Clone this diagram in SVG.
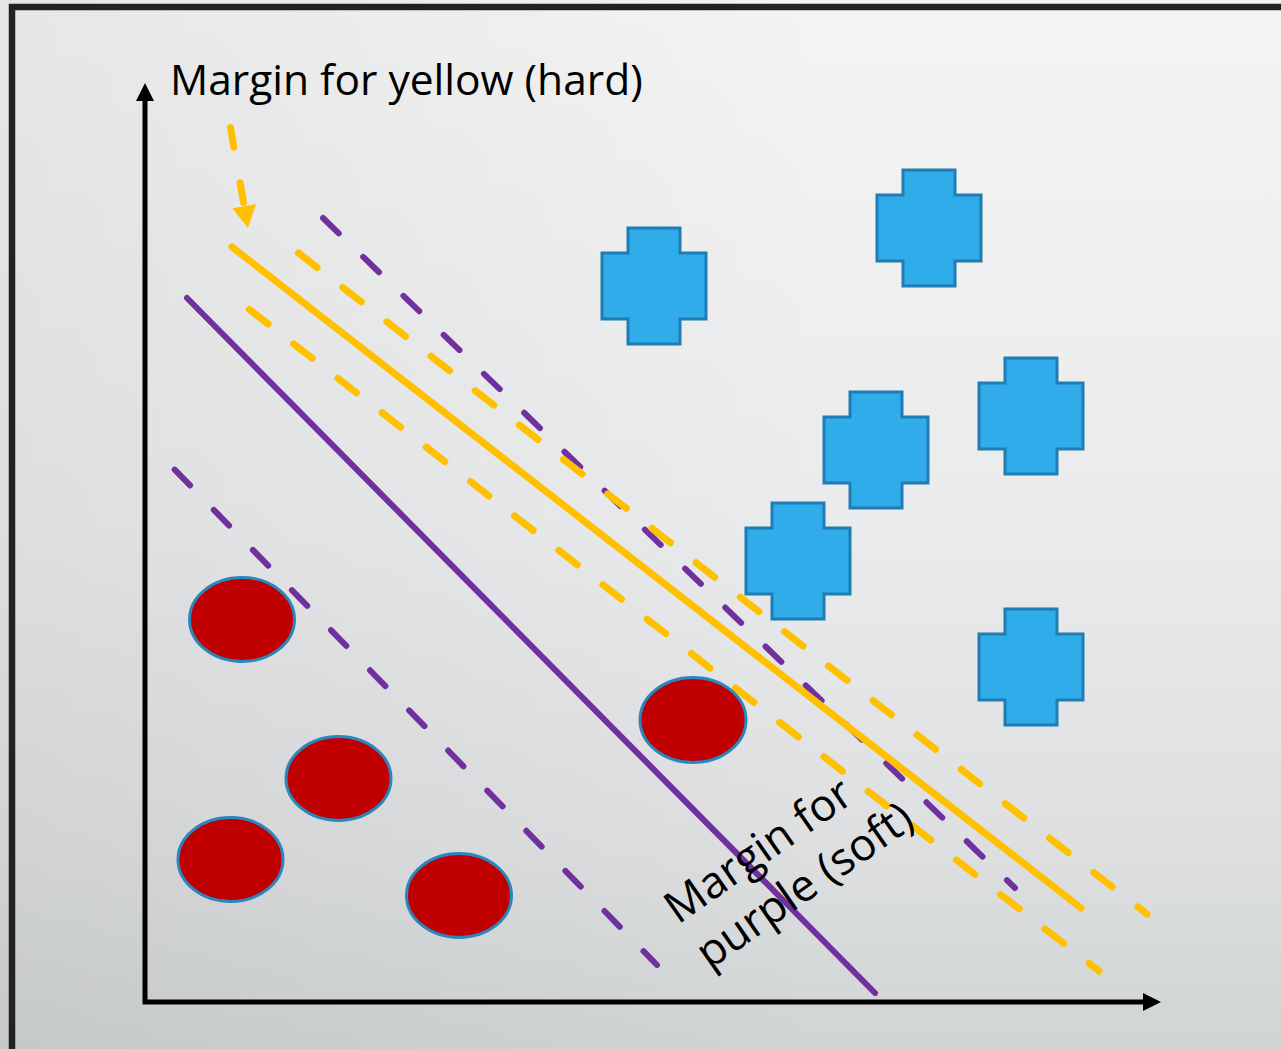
<svg xmlns="http://www.w3.org/2000/svg" width="1281" height="1049" viewBox="0 0 1281 1049">
  <defs>
    <linearGradient id="bgV" x1="0" y1="0" x2="0" y2="1">
      <stop offset="0" stop-color="#f4f4f4"/>
      <stop offset="0.5" stop-color="#eaebec"/>
      <stop offset="0.8" stop-color="#dddfe0"/>
      <stop offset="1" stop-color="#d1d4d5"/>
    </linearGradient>
    <linearGradient id="bgH" x1="0" y1="0" x2="1" y2="0">
      <stop offset="0" stop-color="#000" stop-opacity="0.055"/>
      <stop offset="0.65" stop-color="#000" stop-opacity="0"/>
    </linearGradient>
    <marker id="axisHead" markerUnits="userSpaceOnUse" markerWidth="18" markerHeight="18" refX="0" refY="9" orient="auto-start-reverse" overflow="visible">
      <path d="M0,0 L18,9 L0,18 Z" fill="#000"/>
    </marker>
    <marker id="yellowHead" markerUnits="userSpaceOnUse" markerWidth="22" markerHeight="24" refX="0" refY="12" orient="auto" overflow="visible">
      <path d="M0,0 L22,12 L0,24 Z" fill="#ffc000"/>
    </marker>
    <path id="cross" d="M26,0 H78 V25 H104 V91 H78 V116 H26 V91 H0 V25 H26 Z"/>
  </defs>
  <style>
    .label { font-family: "Open Sans", "Liberation Sans", sans-serif; font-size: 42.5px; fill: #000; }
    .axis { fill: none; stroke: #000; stroke-width: 5; stroke-linejoin: miter; }
    .purple { fill: none; stroke: #7030a0; stroke-width: 6; stroke-linecap: round; }
    .yellow { fill: none; stroke: #ffc000; stroke-width: 7; stroke-linecap: round; }
    .pdash { stroke-dasharray: 22 34; }
    .ydash { stroke-dasharray: 23.5 32.5; }
    .plus { fill: #31acea; stroke: #1f7db3; stroke-width: 3; }
    .dot { fill: #c00000; stroke: #2a86bf; stroke-width: 3; }
  </style>

  <!-- backdrop and slide frame -->
  <rect x="0" y="0" width="1281" height="1049" fill="url(#bgV)"/>
  <rect x="0" y="0" width="1281" height="1049" fill="url(#bgH)"/>
  <rect x="12" y="7" width="1300" height="1080" fill="none" stroke="#222" stroke-width="6.5"/>

  <!-- axes, separating lines and margins -->
  <g id="connectors">
    <path class="axis" d="M145,101 L145,1002 L1143,1002" marker-start="url(#axisHead)" marker-end="url(#axisHead)"/>
    <path class="yellow" d="M230.5,127.5 L244.2,206.3" stroke-width="5" stroke-dasharray="20 36" marker-end="url(#yellowHead)"/>
    <path class="purple" d="M187,298 L875,993"/>
    <path class="purple pdash" d="M174.7,469.7 L657,965"/>
    <path class="purple pdash" d="M323,218 L1015,888"/>
    <path class="yellow" d="M232,247 L1081,908"/>
    <path class="yellow ydash" d="M298.5,253 L1147,914"/>
    <path class="yellow ydash" d="M249.5,309.5 L1099,971"/>
  </g>

  <!-- blue class -->
  <g id="cross-1" class="plus"><use href="#cross" x="602" y="228"/></g>
  <g id="cross-2" class="plus"><use href="#cross" x="877" y="170"/></g>
  <g id="cross-3" class="plus"><use href="#cross" x="824" y="392"/></g>
  <g id="cross-4" class="plus"><use href="#cross" x="979" y="358"/></g>
  <g id="cross-5" class="plus"><use href="#cross" x="746" y="503"/></g>
  <g id="cross-6" class="plus"><use href="#cross" x="979" y="609"/></g>

  <!-- red class -->
  <g id="dot-1"><ellipse class="dot" cx="242" cy="619.5" rx="52.5" ry="42"/></g>
  <g id="dot-2"><ellipse class="dot" cx="693" cy="720" rx="53" ry="42.5"/></g>
  <g id="dot-3"><ellipse class="dot" cx="338.5" cy="778.5" rx="52.5" ry="42"/></g>
  <g id="dot-4"><ellipse class="dot" cx="230.5" cy="859.5" rx="52.5" ry="42"/></g>
  <g id="dot-5"><ellipse class="dot" cx="459" cy="895.5" rx="52.5" ry="42"/></g>

  <!-- labels -->
  <g id="label-yellow"><text class="label" x="170" y="95">Margin for yellow (hard)</text></g>
  <g id="label-purple" transform="translate(678,925) rotate(-35)">
    <text class="label" style="font-size:44.5px"><tspan x="0" y="0">Margin for</tspan><tspan x="0" y="55">purple (soft)</tspan></text>
  </g>
</svg>
